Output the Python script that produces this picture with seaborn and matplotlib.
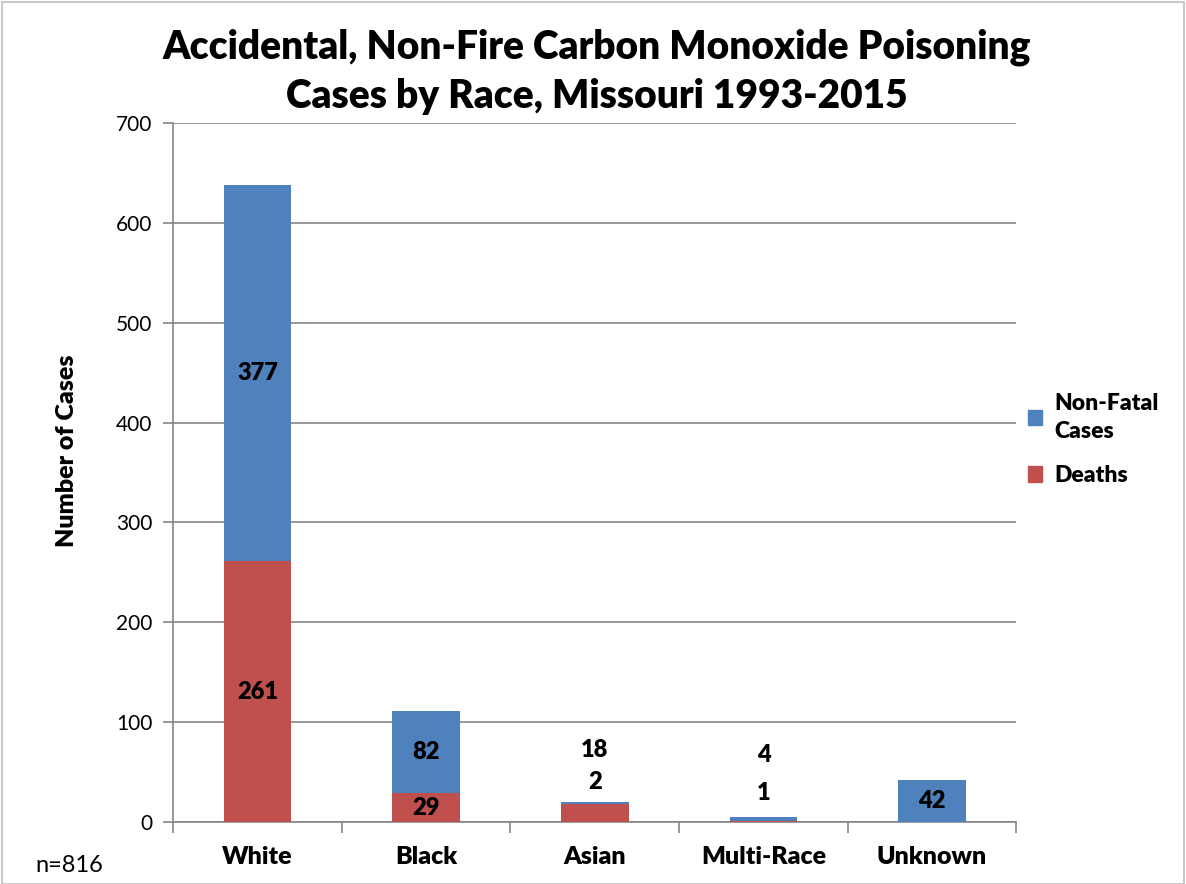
import numpy as np
import pandas as pd
import matplotlib.pyplot as plt
import seaborn as sns
from matplotlib.patches import Patch, Rectangle

# data
races = ["White", "Black", "Asian", "Multi-Race", "Unknown"]
deaths = [261, 29, 18, 1, 0]
non_fatal = [377, 82, 2, 4, 42]

df = pd.DataFrame({"race": races, "deaths": deaths, "non_fatal": non_fatal})
df["total"] = df["deaths"] + df["non_fatal"]

blue = "#4F81BD"
red = "#C0504D"
grid_c = "#868686"

sns.set_style("white")
plt.rcParams["font.family"] = ["Lato", "DejaVu Sans"]
plt.rcParams["text.color"] = "black"
plt.rcParams["ytick.labelcolor"] = "black"
plt.rcParams["axes.labelcolor"] = "black"
bold = "heavy"

fig = plt.figure(figsize=(11.86, 8.84), dpi=100)
ax = fig.add_axes([0.146, 0.070, 0.711, 0.791])

sns.barplot(data=df, x="race", y="total", color=blue, width=0.4,
            saturation=1, ax=ax, zorder=3, linewidth=0)
sns.barplot(data=df, x="race", y="deaths", color=red, width=0.4,
            saturation=1, ax=ax, zorder=4, linewidth=0)

ax.set_ylim(0, 700)
ax.set_xlim(-0.5, 4.5)
ax.set_yticks(range(0, 701, 100))
ax.yaxis.grid(True, color=grid_c, lw=1.2, zorder=0)
ax.set_axisbelow(True)
for s in ["top", "right"]:
    ax.spines[s].set_visible(False)
for s in ["left", "bottom"]:
    ax.spines[s].set_color(grid_c)
    ax.spines[s].set_linewidth(1.2)

# category ticks sit between the bars, as in Excel
ax.set_xticks(np.arange(-0.5, 5, 1))
ax.set_xticklabels([])
ax.tick_params(axis="x", length=8, color=grid_c, width=1.2, direction="out", bottom=True)
ax.tick_params(axis="y", length=7, color=grid_c, width=1.2, direction="out", left=True,
               labelsize=15, pad=8)
for i, r in enumerate(races):
    ax.text(i, -24, r, ha="center", va="top", fontsize=18, fontweight=bold)

ax.set_xlabel("")
ax.set_ylabel("Number of Cases", fontsize=18, fontweight=bold)
ax.yaxis.set_label_coords(-0.113, 0.531)

# value labels (small bars had labels moved above the bar)
moved = {("Asian", "deaths"): 72, ("Asian", "non_fatal"): 40,
         ("Multi-Race", "deaths"): 29, ("Multi-Race", "non_fatal"): 67}
for i, row in df.iterrows():
    for col, base in [("deaths", 0), ("non_fatal", row["deaths"])]:
        v = row[col]
        if v == 0:
            continue
        y = moved.get((row["race"], col), base + v / 2)
        ax.text(i, y, str(v), ha="center", va="center", fontsize=17,
                fontweight=bold, zorder=5)

fig.text(0.503, 0.919, "Accidental, Non-Fire Carbon Monoxide Poisoning\nCases by Race, Missouri 1993-2015",
         ha="center", va="center", fontsize=28, fontweight=bold, linespacing=1.4)

fig.text(0.030, 0.021, "n=816", fontsize=17, ha="left", va="center")

handles = [Patch(color=blue, label="Non-Fatal\nCases"), Patch(color=red, label="Deaths")]
fig.legend(handles=handles, loc="center left", bbox_to_anchor=(0.849, 0.503),
           frameon=False, prop={"size": 16.5, "weight": bold},
           handlelength=0.65, handleheight=0.65, handletextpad=0.5, labelspacing=1.0)
for t in fig.legends[0].get_texts():
    t.set_linespacing(1.45)

fig.patches.append(Rectangle((0.002, 0.0), 0.996, 0.998, transform=fig.transFigure,
                             fill=False, edgecolor="#BFBFBF", lw=1.2))

fig.savefig("out.png", dpi=100)
